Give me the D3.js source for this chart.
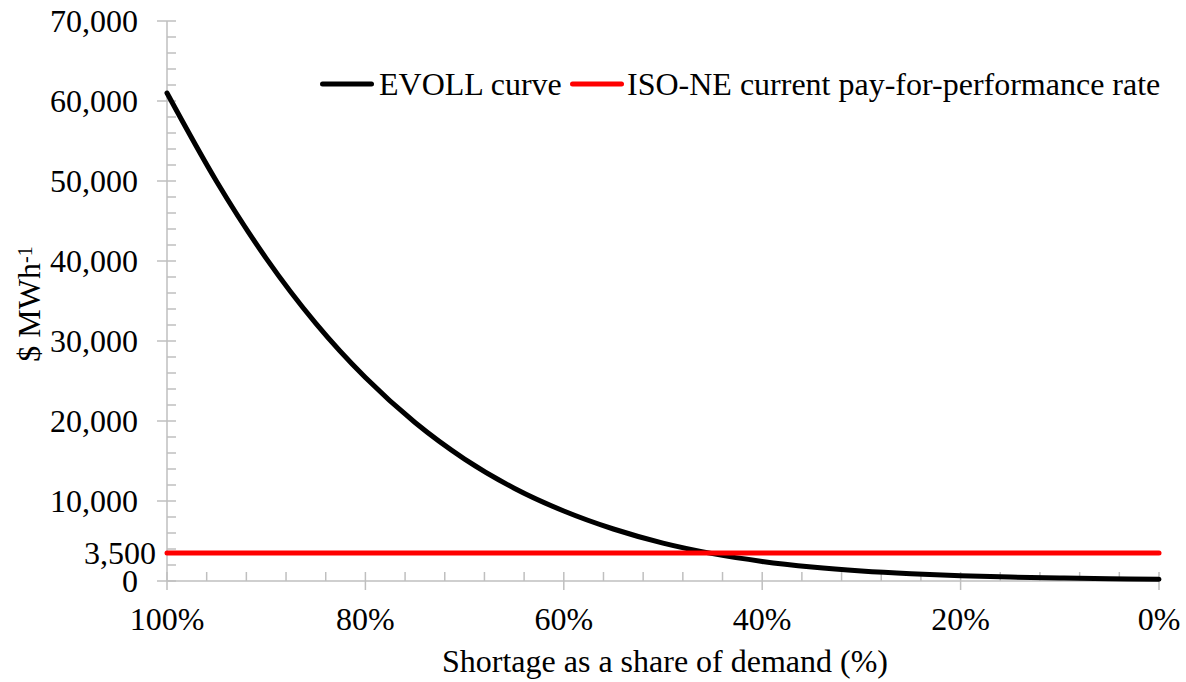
<!DOCTYPE html>
<html><head><meta charset="utf-8">
<script src="https://cdn.jsdelivr.net/npm/d3@7"></script>
<style>
html,body{margin:0;padding:0;background:#fff;}
text{font-family:"Liberation Serif","Times New Roman",serif;fill:#000;}
</style></head>
<body><svg id="c" width="1186" height="682"></svg>
<script>
// Data
const shares = [100,95,90,85,80,75,70,65,60,55,50,45,40,35,30,25,20,15,10,5,0];
const evoll  = [61000,49940,40330,32200,25430,19810,15240,11600,8750,6500,4740,3420,2450,1750,1250,905,665,497,376,284,210];
const payForPerformance = 3500;
const yTicks = [0,10000,20000,30000,40000,50000,60000,70000];
const xTicks = [100,80,60,40,20,0];
const seriesNames = ["EVOLL curve","ISO-NE current pay-for-performance rate"];
const seriesColors = ["#000000","#ff0000"];

const svg = d3.select("#c");
const L = 167, R = 1159, T = 21, B = 581;
const x = d3.scaleLinear().domain([100,0]).range([L,R]);
const y = d3.scaleLinear().domain([0,70000]).range([B,T]);
const axisColor = "#bfbfbf";
const FS = 32;

// Y axis
const gy = svg.append("g");
gy.append("line").attr("x1",L).attr("x2",L).attr("y1",y(0)).attr("y2",y(70000))
  .attr("stroke",axisColor).attr("stroke-width",1.5);
d3.range(0,70001,2000).forEach(v=>{
  const major = v % 10000 === 0;
  gy.append("line").attr("x1",major?L-10:L).attr("x2",L+9).attr("y1",y(v)).attr("y2",y(v))
    .attr("stroke",axisColor).attr("stroke-width",1.5);
});
yTicks.forEach(v=>{
  gy.append("text").attr("x",138).attr("y",y(v)).attr("dy","0.35em")
    .attr("text-anchor","end").attr("font-size",FS).text(d3.format(",")(v));
});
gy.append("text").attr("x",156).attr("y",y(payForPerformance)).attr("dy","0.33em")
  .attr("text-anchor","end").attr("font-size",FS).text(d3.format(",")(payForPerformance));

// X axis
const gx = svg.append("g");
gx.append("line").attr("x1",x(100)).attr("x2",x(0)).attr("y1",B).attr("y2",B)
  .attr("stroke",axisColor).attr("stroke-width",1.5);
d3.range(0,101,4).forEach(v=>{
  const major = v % 20 === 0;
  gx.append("line").attr("x1",x(v)).attr("x2",x(v)).attr("y1",B-9).attr("y2",major?B+9:B)
    .attr("stroke",axisColor).attr("stroke-width",1.5);
});
xTicks.forEach(v=>{
  gx.append("text").attr("x",x(v)).attr("y",630).attr("text-anchor","middle")
    .attr("font-size",FS).text(v+"%");
});

// Axis titles
svg.append("text").attr("x",665).attr("y",672).attr("text-anchor","middle")
  .attr("font-size",FS).text("Shortage as a share of demand (%)");
const yt = svg.append("text").attr("transform","translate(40,304) rotate(-90)")
  .attr("text-anchor","middle").attr("font-size",FS);
yt.append("tspan").text("$ MWh");
yt.append("tspan").attr("dy","-0.42em").attr("font-size",20).text("-1");

// Series
const data = shares.map((s,i)=>({s, v: evoll[i]}));
svg.append("path").datum(data)
  .attr("d", d3.line().x(d=>x(d.s)).y(d=>y(d.v)).curve(d3.curveMonotoneX))
  .attr("fill","none").attr("stroke",seriesColors[0]).attr("stroke-width",5)
  .attr("stroke-linecap","round").attr("stroke-linejoin","round");
svg.append("line").attr("x1",x(100)).attr("x2",x(0))
  .attr("y1",y(payForPerformance)).attr("y2",y(payForPerformance))
  .attr("stroke",seriesColors[1]).attr("stroke-width",5).attr("stroke-linecap","round");

// Legend
const leg = [{x1:322.5,x2:371.5,tx:379},{x1:572.5,x2:621.5,tx:627}];
leg.forEach((l,i)=>{
  svg.append("line").attr("x1",l.x1).attr("x2",l.x2).attr("y1",84).attr("y2",84)
    .attr("stroke",seriesColors[i]).attr("stroke-width",5).attr("stroke-linecap","round");
  svg.append("text").attr("x",l.tx).attr("y",95).attr("font-size",FS).text(seriesNames[i]);
});
</script></body></html>
